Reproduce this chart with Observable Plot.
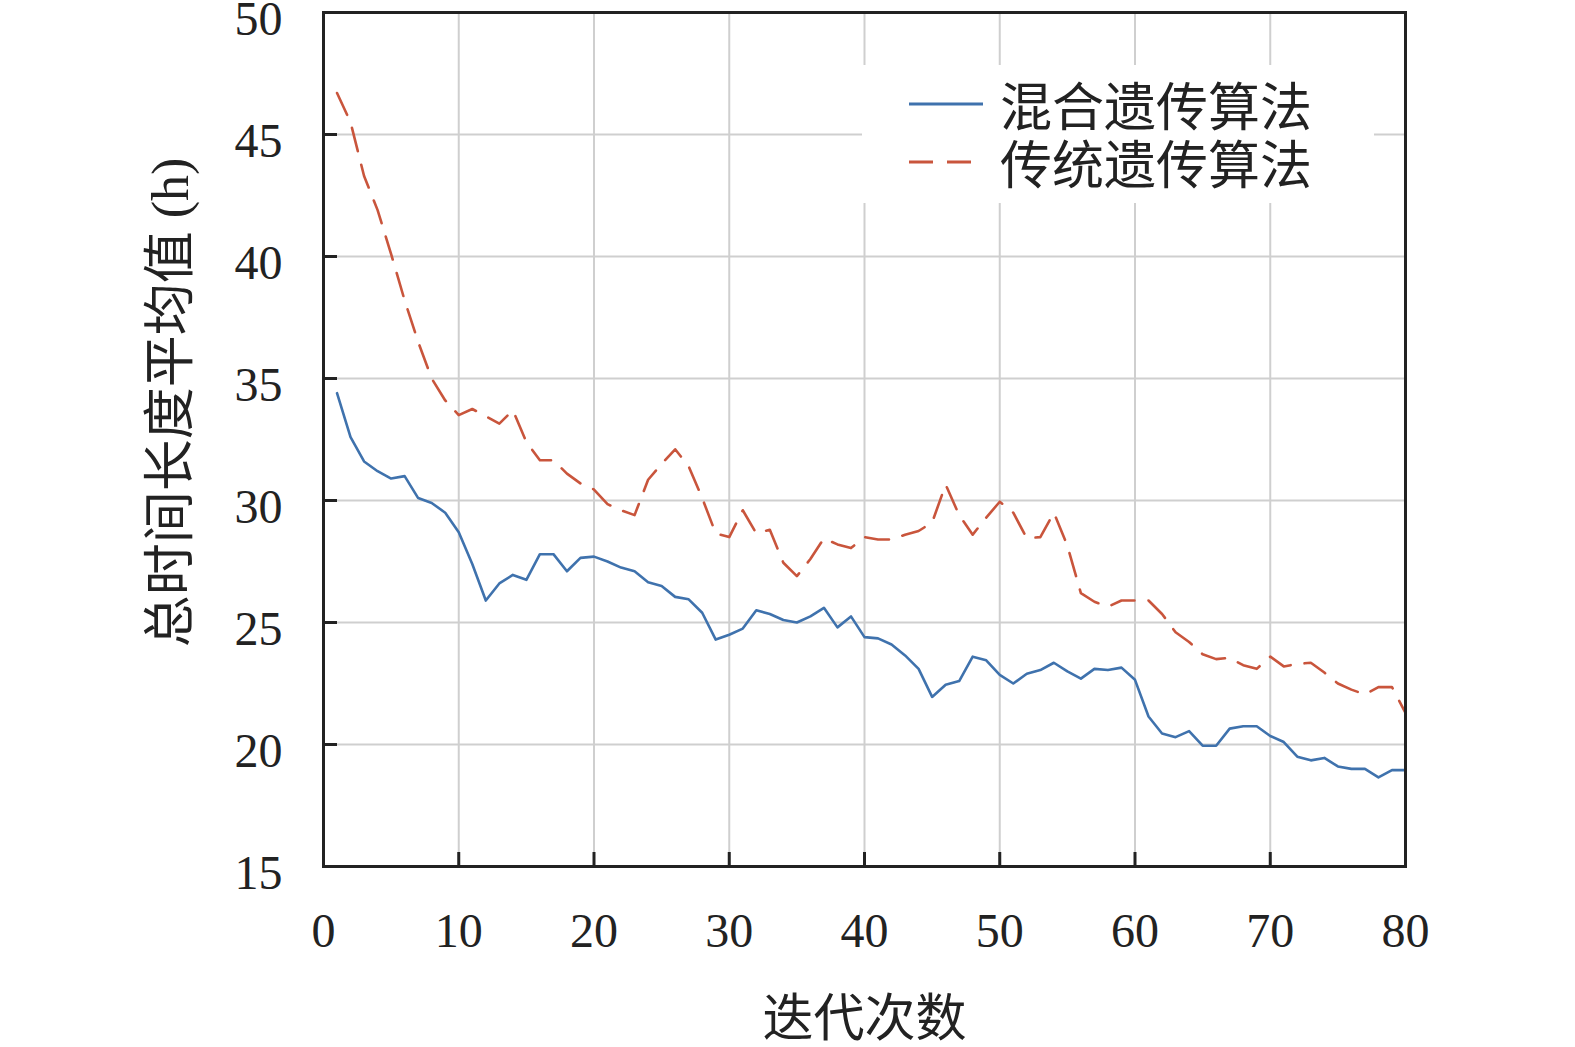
<!DOCTYPE html>
<html>
<head>
<meta charset="utf-8">
<script src="https://cdn.jsdelivr.net/npm/d3@7"></script>
<script src="https://cdn.jsdelivr.net/npm/@observablehq/plot@0.6"></script>
<style>
  html, body { margin: 0; padding: 0; background: #fff; overflow: hidden; }
  #wrap { position: relative; width: 1575px; height: 1047px; overflow: hidden; }
  #wrap > svg { display: block; }
  #legend { position: absolute; left: 862px; top: 65px; width: 512px; height: 138px; background: #fff; }
  .row { position: absolute; left: 0; height: 52px; display: flex; align-items: center; }
  .row svg { margin-left: 47px; display: block; }
  .row span { margin-left: 17px; font-family: "Noto Sans CJK SC", sans-serif; font-size: 52px; color: #222; line-height: 52px; white-space: nowrap; }
</style>
</head>
<body>
<div id="wrap"></div>
<script>
const iterations = [1,2,3,4,5,6,7,8,9,10,11,12,13,14,15,16,17,18,19,20,21,22,23,24,25,26,27,28,29,30,31,32,33,34,35,36,37,38,39,40,41,42,43,44,45,46,47,48,49,50,51,52,53,54,55,56,57,58,59,60,61,62,63,64,65,66,67,68,69,70,71,72,73,74,75,76,77,78,79,80];
const hybridGA = [34.4,32.6,31.6,31.2,30.9,31.0,30.1,29.9,29.5,28.7,27.4,25.9,26.6,26.95,26.75,27.8,27.8,27.1,27.65,27.7,27.5,27.25,27.1,26.65,26.5,26.05,25.95,25.4,24.3,24.5,24.75,25.5,25.35,25.1,25.0,25.25,25.6,24.8,25.25,24.4,24.35,24.1,23.65,23.1,21.95,22.45,22.6,23.6,23.45,22.85,22.5,22.9,23.05,23.35,23.0,22.7,23.1,23.05,23.15,22.65,21.15,20.45,20.3,20.55,19.95,19.95,20.65,20.75,20.75,20.35,20.1,19.5,19.35,19.45,19.1,19.0,19.0,18.65,18.95,18.95];
const traditionalGA = [46.7,45.5,43.3,41.9,40.1,38.2,36.5,35.0,34.1,33.5,33.75,33.45,33.15,33.7,32.4,31.65,31.65,31.1,30.7,30.45,29.85,29.6,29.4,30.85,31.5,32.1,31.4,30.1,28.65,28.5,29.6,28.65,28.8,27.45,26.9,27.6,28.45,28.2,28.05,28.5,28.4,28.4,28.6,28.75,29.1,30.65,29.4,28.6,29.3,29.95,29.5,28.45,28.5,29.5,28.15,26.2,25.85,25.65,25.9,25.9,25.9,25.35,24.6,24.2,23.7,23.5,23.55,23.25,23.1,23.6,23.2,23.3,23.35,22.95,22.5,22.25,22.05,22.35,22.35,21.3];
const seriesNames = ["混合遗传算法", "传统遗传算法"];
const xTicks = [0,10,20,30,40,50,60,70,80];
const yTicks = [15,20,25,30,35,40,45,50];
const xGrid = [10,20,30,40,50,60,70];
const yGrid = [20,25,30,35,40,45];
const xLabel = "迭代次数";
const yLabel = "总时间长度平均值 (h)";

const blue = "#3f72ad";
const red = "#c9553c";

const hybridRows = iterations.map((x, i) => ({x, y: hybridGA[i]}));
const tradRows = iterations.map((x, i) => ({x, y: traditionalGA[i]}));

const cjk = "'Liberation Serif', 'Noto Sans CJK SC', serif";

const chart = Plot.plot({
  width: 1575,
  height: 1047,
  marginLeft: 323,
  marginRight: 170,
  marginTop: 12,
  marginBottom: 181,
  style: {background: "#fff", color: "#222", fontFamily: "'Liberation Serif', serif", fontSize: "48px"},
  x: {domain: [0, 80]},
  y: {domain: [15, 50]},
  marks: [
    Plot.gridX(xGrid, {stroke: "#cfcfcf", strokeOpacity: 1, strokeWidth: 2}),
    Plot.gridY(yGrid, {stroke: "#cfcfcf", strokeOpacity: 1, strokeWidth: 2}),
    Plot.line(tradRows, {x: "x", y: "y", stroke: red, strokeWidth: 2.6, strokeDasharray: "24,14"}),
    Plot.line(hybridRows, {x: "x", y: "y", stroke: blue, strokeWidth: 2.6}),
    Plot.frame({stroke: "#222", strokeWidth: 3}),
    // inward ticks
    Plot.axisX({ticks: xTicks, tickSize: -14, strokeWidth: 3, fill: "none", label: null}),
    Plot.axisY({ticks: yTicks, tickSize: -14, strokeWidth: 3, fill: "none", label: null}),
    // tick labels
    Plot.axisX({ticks: xTicks, tickSize: 0, tickPadding: 46, label: null, fontSize: 48, fill: "#222"}),
    Plot.axisY({ticks: yTicks, tickSize: 0, tickPadding: 41, label: null, fontSize: 48, fill: "#222", dy: 7}),
    Plot.text([xLabel], {text: d => d, frameAnchor: "bottom", dy: 169, fontSize: 51, fontFamily: cjk, fill: "#222"}),
    Plot.text([yLabel], {text: d => d, frameAnchor: "left", textAnchor: "middle", rotate: -90, dx: -152, dy: -37, fontSize: 52, fontFamily: cjk, fill: "#222"})
  ]
});

const wrap = document.getElementById("wrap");
wrap.appendChild(chart);

const legend = document.createElement("div");
legend.id = "legend";
legend.innerHTML = `
  <div class="row" style="top:13px"><svg width="74" height="6"><line x1="0" x2="74" y1="3" y2="3" stroke="${blue}" stroke-width="3"/></svg><span>${seriesNames[0]}</span></div>
  <div class="row" style="top:71px"><svg width="74" height="6"><line x1="0" x2="74" y1="3" y2="3" stroke="${red}" stroke-width="3" stroke-dasharray="24,14"/></svg><span>${seriesNames[1]}</span></div>
`;
wrap.appendChild(legend);
</script>
</body>
</html>
